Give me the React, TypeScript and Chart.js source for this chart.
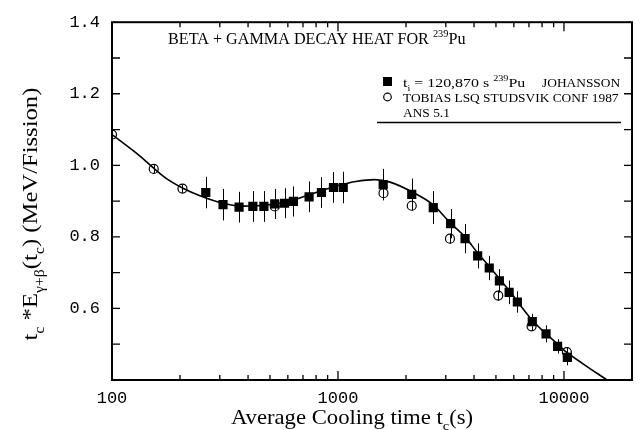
import React, { useEffect, useRef } from 'react';
import { Chart, registerables } from 'chart.js';

Chart.register(...registerables);

// ---- data ----
const johanssonT = [260, 310, 365, 420, 470, 525, 580, 635, 745, 845, 955, 1055, 1585, 2120, 2640, 3150, 3650, 4150, 4670, 5180, 5720, 6220, 7240, 8330, 9370, 10350];
const johanssonE = [0.924, 0.890, 0.883, 0.885, 0.885, 0.892, 0.894, 0.899, 0.912, 0.924, 0.938, 0.938, 0.946, 0.919, 0.882, 0.837, 0.795, 0.747, 0.713, 0.677, 0.645, 0.618, 0.563, 0.529, 0.494, 0.463];
const johanssonErr = [0.044, 0.044, 0.043, 0.043, 0.043, 0.042, 0.042, 0.042, 0.043, 0.043, 0.043, 0.044, 0.044, 0.044, 0.046, 0.041, 0.041, 0.035, 0.034, 0.033, 0.033, 0.030, 0.022, 0.024, 0.020, 0.022];

const tobiasT = [100, 153, 205, 525, 1590, 2120, 3130, 5120, 7190, 10300];
const tobiasE = [1.086, 0.990, 0.935, 0.885, 0.922, 0.887, 0.795, 0.636, 0.550, 0.478];
const tobiasErr = [0, 0.012, 0.012, 0, 0.014, 0.014, 0.014, 0.014, 0.012, 0.012];

const ansT = [100, 133, 153, 175, 206, 245, 310, 380, 484, 633, 806, 1020, 1200, 1450, 1700, 2120, 2630, 3130, 3650, 4150, 4660, 5720, 7190, 9370, 10300, 12100, 15500];
const ansE = [1.086, 1.026, 0.992, 0.962, 0.936, 0.915, 0.894, 0.886, 0.889, 0.903, 0.925, 0.945, 0.955, 0.960, 0.953, 0.926, 0.890, 0.840, 0.800, 0.755, 0.718, 0.650, 0.569, 0.500, 0.477, 0.446, 0.400];

const xTickLabels = [100, 1000, 10000];
const yTickLabels = [0.6, 0.8, 1.0, 1.2, 1.4];
const yMinorTicks = [0.5, 0.6, 0.7, 0.8, 0.9, 1.0, 1.1, 1.2, 1.3];

type Part = [string, number]; // 0 normal, 1 subscript, 2 superscript
const titleParts: Part[] = [['BETA + GAMMA DECAY HEAT FOR ', 0], ['239', 2], ['Pu', 0]];
const legend1Parts: Part[] = [['t', 0], ['i', 1], [' = 120,870 s ', 0], ['239', 2], ['Pu', 0]];
const legend1Name: Part[] = [['JOHANSSON', 0]];
const legend2Parts: Part[] = [['TOBIAS LSQ STUDSVIK CONF 1987', 0]];
const legend3Parts: Part[] = [['ANS 5.1', 0]];
const xTitleParts: Part[] = [['Average Cooling time t', 0], ['c', 1], ['(s)', 0]];
const yTitleParts: Part[] = [['t', 0], ['c', 1], [' *E', 0], ['γ+β', 1], ['(t', 0], ['c', 1], [') (MeV/Fission)', 0]];

const SERIF = '"Liberation Serif", serif';
const MONO = '"Liberation Mono", monospace';

function richWidth(ctx: CanvasRenderingContext2D, parts: Part[], size: number, family: string, sx: number) {
  let w = 0;
  for (const [t, k] of parts) {
    ctx.font = `${k ? size * 0.64 : size}px ${family}`;
    w += ctx.measureText(t).width * sx;
  }
  return w;
}

function drawRich(ctx: CanvasRenderingContext2D, parts: Part[], x: number, y: number, size: number, family: string, align: 'left' | 'center' = 'left', sx = 1) {
  let cx = align === 'center' ? x - richWidth(ctx, parts, size, family, sx) / 2 : x;
  ctx.textAlign = 'left';
  ctx.textBaseline = 'alphabetic';
  ctx.fillStyle = '#000';
  for (const [t, k] of parts) {
    const s = k ? size * 0.64 : size;
    ctx.font = `${s}px ${family}`;
    const dy = k === 1 ? size * 0.3 : k === 2 ? -size * 0.42 : 0;
    ctx.save();
    ctx.translate(cx, y + dy);
    ctx.scale(sx, 1);
    ctx.fillText(t, 0, 0);
    ctx.restore();
    cx += ctx.measureText(t).width * sx;
  }
}

const decor = {
  id: 'decor',
  beforeDatasetsDraw(chart: any) {
    const ctx: CanvasRenderingContext2D = chart.ctx;
    const xs = chart.scales.x;
    const ys = chart.scales.y;
    ctx.save();
    ctx.strokeStyle = '#000';
    ctx.lineWidth = 1;
    const bars = (T: number[], E: number[], Er: number[]) => {
      for (let i = 0; i < T.length; i++) {
        if (!Er[i]) continue;
        const px = Math.round(xs.getPixelForValue(T[i])) + 0.5;
        ctx.beginPath();
        ctx.moveTo(px, ys.getPixelForValue(E[i] - Er[i]));
        ctx.lineTo(px, ys.getPixelForValue(E[i] + Er[i]));
        ctx.stroke();
      }
    };
    bars(johanssonT, johanssonE, johanssonErr);
    bars(tobiasT, tobiasE, tobiasErr);
    ctx.restore();
  },
  afterDraw(chart: any) {
    const ctx: CanvasRenderingContext2D = chart.ctx;
    const xs = chart.scales.x;
    const ys = chart.scales.y;
    const { left, right, top, bottom } = chart.chartArea;
    ctx.save();
    ctx.strokeStyle = '#000';
    // inward ticks
    ctx.lineWidth = 1.3;
    for (let d = 100; d <= 10000; d *= 10) {
      for (let m = 1; m < 10; m++) {
        const v = d * m;
        if (v <= 100 || v >= 20000) continue;
        const px = xs.getPixelForValue(v);
        const len = m === 1 ? 9 : 5;
        ctx.beginPath();
        ctx.moveTo(px, bottom); ctx.lineTo(px, bottom - len);
        ctx.moveTo(px, top); ctx.lineTo(px, top + len);
        ctx.stroke();
      }
    }
    for (const v of yMinorTicks) {
      const py = ys.getPixelForValue(v);
      ctx.beginPath();
      ctx.moveTo(left, py); ctx.lineTo(left + 8, py);
      ctx.moveTo(right, py); ctx.lineTo(right - 8, py);
      ctx.stroke();
    }
    // frame
    ctx.lineWidth = 2;
    ctx.strokeRect(left, top, right - left, bottom - top);

    // title inside plot
    drawRich(ctx, titleParts, 168, 44, 16, SERIF, 'left', 1.01);

    // legend
    ctx.fillStyle = '#000';
    ctx.fillRect(383, 77, 9, 9);
    ctx.lineWidth = 1.2;
    ctx.beginPath();
    ctx.arc(387.5, 97, 3.8, 0, Math.PI * 2);
    ctx.stroke();
    drawRich(ctx, legend1Parts, 403, 86.5, 13.4, SERIF, 'left', 1.19);
    drawRich(ctx, legend1Name, 542, 86.5, 13.4, SERIF);
    drawRich(ctx, legend2Parts, 403, 101.5, 13.4, SERIF);
    drawRich(ctx, legend3Parts, 403, 116.5, 13.4, SERIF);
    ctx.lineWidth = 1.3;
    ctx.beginPath();
    ctx.moveTo(377, 122.5); ctx.lineTo(621, 122.5);
    ctx.stroke();

    // x title
    drawRich(ctx, xTitleParts, 352, 424, 21, SERIF, 'center', 1.08);

    // y title (rotated)
    ctx.save();
    ctx.translate(37, 214);
    ctx.rotate(-Math.PI / 2);
    drawRich(ctx, yTitleParts, 0, 0, 22, SERIF, 'center', 1.12);
    ctx.restore();

    ctx.restore();
  },
};

export default function App() {
  const ref = useRef<HTMLCanvasElement | null>(null);
  useEffect(() => {
    if (!ref.current) return;
    const chart = new Chart(ref.current, {
      type: 'scatter',
      data: {
        datasets: [
          {
            label: 't_i = 120,870 s 239Pu JOHANSSON',
            data: johanssonT.map((t, i) => ({ x: t, y: johanssonE[i] })),
            pointStyle: 'rect',
            pointRadius: 6.5,
            backgroundColor: '#000',
            borderColor: '#000',
            borderWidth: 0,
            order: 0,
          },
          {
            label: 'TOBIAS LSQ STUDSVIK CONF 1987',
            data: tobiasT.map((t, i) => ({ x: t, y: tobiasE[i] })),
            pointStyle: 'circle',
            pointRadius: 4.5,
            backgroundColor: 'rgba(0,0,0,0)',
            borderColor: '#000',
            borderWidth: 1.2,
            order: 1,
          },
          {
            label: 'ANS 5.1',
            data: ansT.map((t, i) => ({ x: t, y: ansE[i] })),
            showLine: true,
            pointRadius: 0,
            borderColor: '#000',
            borderWidth: 1.6,
            cubicInterpolationMode: 'monotone',
            fill: false,
            order: 2,
          } as any,
        ],
      },
      options: {
        responsive: false,
        animation: false,
        events: [],
        layout: { padding: { top: 13, right: 10, left: 0, bottom: 0 } },
        plugins: { legend: { display: false }, tooltip: { enabled: false } },
        scales: {
          x: {
            type: 'logarithmic',
            min: 100,
            max: 20000,
            grid: { display: false, drawTicks: false },
            border: { display: false },
            afterFit: (s: any) => { s.height = 50; },
            afterBuildTicks: (s: any) => { s.ticks = xTickLabels.map((v) => ({ value: v })); },
            ticks: {
              autoSkip: false,
              maxRotation: 0,
              padding: 8,
              color: '#000',
              font: { family: MONO, size: 17 },
              callback: (v: any) => String(v),
            },
          },
          y: {
            type: 'linear',
            min: 0.4,
            max: 1.4,
            grid: { display: false, drawTicks: false },
            border: { display: false },
            afterFit: (s: any) => { s.width = 112; },
            afterBuildTicks: (s: any) => { s.ticks = yTickLabels.map((v) => ({ value: v })); },
            ticks: {
              padding: 12,
              color: '#000',
              font: { family: MONO, size: 17 },
              callback: (v: any) => Number(v).toFixed(1),
            },
          },
        },
      } as any,
      plugins: [decor],
    });
    return () => chart.destroy();
  }, []);
  return (
    <div style={{ position: 'fixed', left: 0, top: 0, width: 642, height: 430, background: '#fff' }}>
      <canvas ref={ref} width={642} height={430} style={{ display: 'block' }} />
    </div>
  );
}
